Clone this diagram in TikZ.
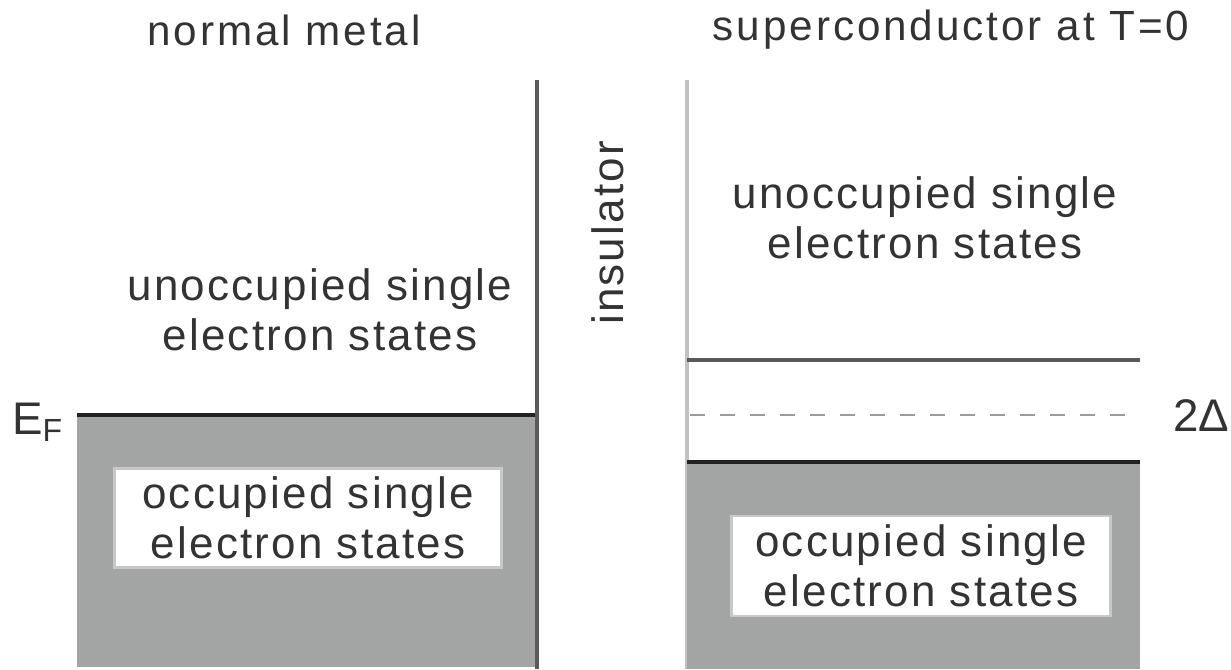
\documentclass[tikz,border=0pt]{standalone}
\usepackage{fontspec}
\setmainfont{Liberation Sans}
\newfontfamily\stfont{Liberation Sans}[LetterSpace=5]
\newfontfamily\ttlfont{Liberation Sans}[LetterSpace=7]
\usetikzlibrary{positioning}

\definecolor{bandgray}{HTML}{A3A5A4}
\definecolor{edgedark}{HTML}{222222}
\definecolor{wallgray}{HTML}{5A5A5A}
\definecolor{walllight}{HTML}{C2C2C2}
\definecolor{boxrim}{HTML}{C8C8C8}
\definecolor{dashgray}{HTML}{9A9A9A}

\tikzset{
	txt/.style={font=\stfont\fontsize{12.5}{14.2}\selectfont, align=center, inner sep=0pt, text=black!80},
	ttl/.style={font=\ttlfont\fontsize{12}{14}\selectfont, inner sep=0pt, text=black!80},
	lvl/.style={font=\fontsize{13}{15}\selectfont, inner sep=0pt, text=black!80},
	fermi/.style={line width=1.3pt, draw=edgedark},
	statebox/.style={txt, fill=white, draw=boxrim, line width=0.8pt},
}

\begin{document}
\begin{tikzpicture}[x=0.01cm, y=-0.01cm]
		\useasboundingbox (0,0) rectangle (1231,669);
		% titles
		\node[ttl] (metal) at (284,30) {normal metal};
		\node[ttl] (sc) at (951,30) {superconductor at T=0};
		% normal metal: filled band up to E_F
		\fill[bandgray] (77,415) rectangle (535,667);
		\draw[fermi] (77,415) -- (535,415);
		\draw[line width=1.2pt, wallgray] (537,80) -- (537,669);
		\node[lvl] (ef) at (38,422) {E\textsubscript{F}};
		\node[txt] (unoccL) at (320,310) {unoccupied single\\electron states};
		\node[statebox, minimum width=3.86cm, minimum height=0.99cm] (occL) at (308,518) {occupied single\\electron states};
		% insulator barrier
		\node[txt, rotate=90] (ins) at (608,233) {insulator};
		% superconductor: gap of 2 Delta around E_F
		\draw[line width=1pt, walllight] (687,80) -- (687,669);
		\fill[bandgray] (687,462) rectangle (1140,669);
		\draw[line width=1pt, wallgray] (687,360) -- (1140,360);
		\draw[line width=0.8pt, dashgray, dash pattern=on 0.15cm off 0.15cm] (690,415) -- (1140,415);
		\draw[fermi] (687,462) -- (1140,462);
		\node[lvl] (gap) at (1201,416) {2Δ};
		\node[txt] (unoccR) at (925,218) {unoccupied single\\electron states};
		\node[statebox, minimum width=3.79cm, minimum height=1cm] (occR) at (921,566) {occupied single\\electron states};
	\end{tikzpicture}
\end{document}
